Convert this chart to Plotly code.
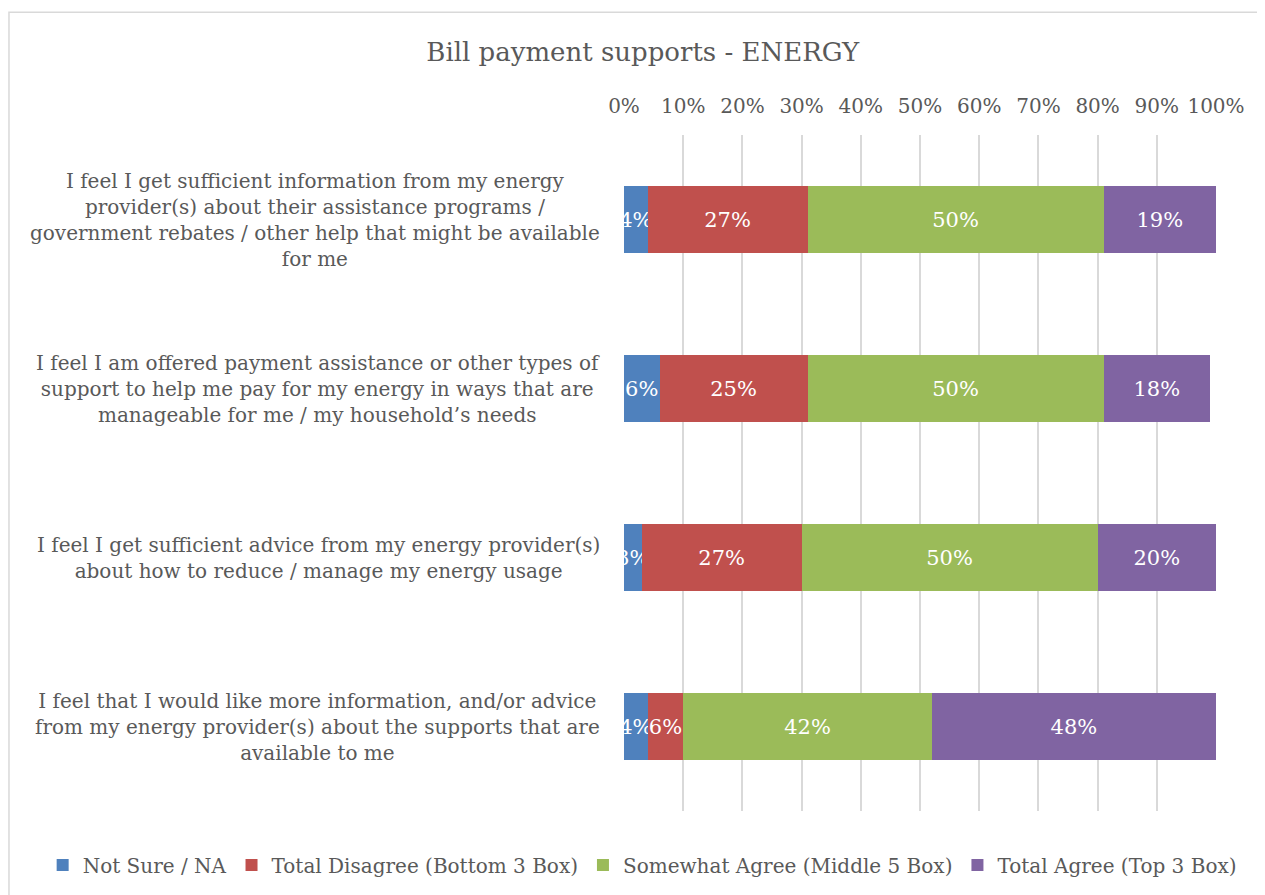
import plotly.graph_objects as go

# 数据
questions = [
    "I feel I get sufficient information from my energy<br>provider(s) about their assistance programs /<br>government rebates / other help that might be available<br>for me",
    "I feel I am offered payment assistance or other types of<br>support to help me pay for my energy in ways that are<br>manageable for me / my household’s needs",
    "I feel I get sufficient advice from my energy provider(s)<br>about how to reduce / manage my energy usage",
    "I feel that I would like more information, and/or advice<br>from my energy provider(s) about the supports that are<br>available to me",
]
cat_ids = ["q1", "q2", "q3", "q4"]

series_names = [
    "Not Sure / NA",
    "Total Disagree (Bottom 3 Box)",
    "Somewhat Agree (Middle 5 Box)",
    "Total Agree (Top 3 Box)",
]
not_sure = [4, 6, 3, 4]
disagree = [27, 25, 27, 6]
somewhat = [50, 50, 50, 42]
agree = [19, 18, 20, 48]
series_values = [not_sure, disagree, somewhat, agree]
series_colors = ["#4f81bd", "#c0504d", "#9bbb59", "#8064a2"]

x_ticks = list(range(0, 101, 10))

FONT = "DejaVu Serif"
GREY = "#595959"

fig = go.Figure()

for name, vals, color in zip(series_names, series_values, series_colors):
    fig.add_trace(go.Bar(
        y=cat_ids,
        x=vals,
        name=name,
        orientation="h",
        marker=dict(color=color, line=dict(width=0)),
        text=[f"{v}%" for v in vals],
        textposition="inside",
        insidetextanchor="middle",
        textangle=0,
        constraintext="none",
        textfont=dict(family=FONT, size=21, color="white"),
        cliponaxis=True,
    ))

# 类别标签（居中对齐）
for cid, q in zip(cat_ids, questions):
    fig.add_annotation(
        x=-0.037, xref="paper", xanchor="right",
        y=cid, yref="y", yanchor="middle",
        text=q, showarrow=False, align="center",
        font=dict(family=FONT, size=20, color=GREY),
    )

# 外框
fig.add_shape(
    type="rect", xref="paper", yref="paper",
    x0=-1.0389, x1=1.2, y0=-0.2, y1=1.1817,
    line=dict(color="#d9d9d9", width=1.5), fillcolor="rgba(0,0,0,0)",
    layer="below",
)

fig.update_layout(
    width=1257, height=887,
    barmode="stack",
    bargap=0.6,
    paper_bgcolor="white",
    plot_bgcolor="white",
    margin=dict(l=616, r=49, t=127, b=83),
    title=dict(
        text="Bill payment supports - ENERGY",
        x=0.505, xref="container", xanchor="center",
        y=1 - 44 / 887, yref="container", yanchor="middle",
        font=dict(family=FONT, size=26, color=GREY),
    ),
    legend=dict(
        orientation="h", x=-0.982, xanchor="left",
        y=-0.0783, yanchor="middle",
        font=dict(family=FONT, size=20, color=GREY),
        itemwidth=30, traceorder="normal",
    ),
    font=dict(family=FONT, color=GREY),
)

fig.update_xaxes(
    range=[0, 100], side="top",
    tickvals=x_ticks, ticktext=[f"{t}%" for t in x_ticks],
    showgrid=True, gridcolor="#d9d9d9", gridwidth=1.5,
    zeroline=False, showline=False, ticks="",
    ticklabelstandoff=17,
    tickfont=dict(family=FONT, size=20, color=GREY),
)
fig.update_yaxes(
    autorange="reversed", showticklabels=False,
    showgrid=False, zeroline=False, showline=False, ticks="",
)

fig.write_html("out.html")
